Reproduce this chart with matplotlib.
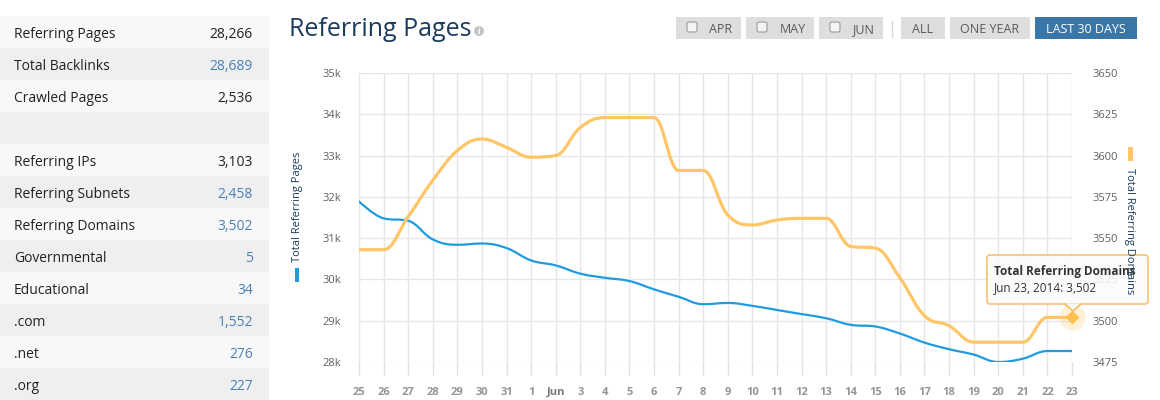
import numpy as np
import matplotlib
matplotlib.use('Agg')
import matplotlib.pyplot as plt
from matplotlib.path import Path
from matplotlib.patches import PathPatch, Rectangle, FancyBboxPatch, Polygon, Circle

plt.rcParams['font.family'] = ['Open Sans', 'DejaVu Sans']

# side table
table_labels = ['Referring Pages', 'Total Backlinks', 'Crawled Pages', '',
                'Referring IPs', 'Referring Subnets', 'Referring Domains',
                'Governmental', 'Educational', '.com', '.net', '.org']
table_values = ['28,266', '28,689', '2,536', '', '3,103', '2,458', '3,502',
                '5', '34', '1,552', '276', '227']
table_links = [False, True, False, False, False, True, True,
               True, True, True, True, True]

# chart data, May 25 .. Jun 23 2014
day_labels = ['25', '26', '27', '28', '29', '30', '31', '1', 'Jun', '3', '4',
              '5', '6', '7', '8', '9', '10', '11', '12', '13', '14', '15',
              '16', '17', '18', '19', '20', '21', '22', '23']
ref_pages = [31890, 31480, 31420, 30970, 30840, 30870, 30760, 30460, 30340,
             30140, 30040, 29960, 29760, 29580, 29400, 29430, 29360, 29260,
             29160, 29060, 28900, 28860, 28690, 28470, 28310, 28180, 28000,
             28080, 28266, 28266]
ref_domains = [3543, 3543, 3563, 3585, 3603, 3610, 3605, 3599, 3600, 3617,
               3623, 3623, 3623, 3591, 3591, 3564, 3558, 3561, 3562, 3562,
               3545, 3544, 3526, 3503, 3497, 3487, 3487, 3487, 3502, 3502]
left_ticks = [28000, 29000, 30000, 31000, 32000, 33000, 34000, 35000]
right_ticks = [3475, 3500, 3525, 3550, 3575, 3600, 3625, 3650]

buttons = ['APR', 'MAY', 'JUN', 'ALL', 'ONE YEAR', 'LAST 30 DAYS']

BLUE = '#1f9be0'
ORANGE = '#ffc566'
NAVY = '#1b3b5e'


def spline_path(xs, ys, smoothing=1.5):
    # highcharts-like spline through the points
    n = len(xs)
    lc = [None] * n
    rc = [None] * n
    d = smoothing + 1
    for i in range(1, n - 1):
        x, y = xs[i], ys[i]
        lx, ly = xs[i - 1], ys[i - 1]
        nx, ny = xs[i + 1], ys[i + 1]
        lcx = (smoothing * x + lx) / d
        lcy = (smoothing * y + ly) / d
        rcx = (smoothing * x + nx) / d
        rcy = (smoothing * y + ny) / d
        corr = ((rcy - lcy) * (rcx - x)) / (rcx - lcx) + y - rcy
        lcy += corr
        rcy += corr
        if lcy > ly and lcy > y:
            lcy = max(ly, y); rcy = 2 * y - lcy
        elif lcy < ly and lcy < y:
            lcy = min(ly, y); rcy = 2 * y - lcy
        if rcy > ny and rcy > y:
            rcy = max(ny, y); lcy = 2 * y - rcy
        elif rcy < ny and rcy < y:
            rcy = min(ny, y); lcy = 2 * y - rcy
        lc[i] = (lcx, lcy)
        rc[i] = (rcx, rcy)
    verts = [(xs[0], ys[0])]
    codes = [Path.MOVETO]
    for i in range(1, n):
        c1 = rc[i - 1] if rc[i - 1] else (xs[i - 1], ys[i - 1])
        c2 = lc[i] if lc[i] else (xs[i], ys[i])
        verts += [c1, c2, (xs[i], ys[i])]
        codes += [Path.CURVE4] * 3
    return Path(verts, codes)


fig = plt.figure(figsize=(11.6, 4), dpi=100)

# chart
W, H = 1160., 400.
ax = fig.add_axes([359 / W, 1 - 362 / H, (1072 - 359) / W, (362 - 73) / H])
ax.set_zorder(1)
ax2 = ax.twinx()
xs = np.arange(len(day_labels))
ax.set_xlim(0, len(day_labels) - 1)
ax.set_ylim(left_ticks[0], left_ticks[-1])
ax2.set_ylim(right_ticks[0], right_ticks[-1])
for a in (ax, ax2):
    for s in a.spines.values():
        s.set_visible(False)
ax.set_xticks(xs)
ax.set_xticklabels(day_labels)
ax.set_yticks(left_ticks)
ax.set_yticklabels(['%dk' % (t // 1000) for t in left_ticks])
ax2.set_yticks(right_ticks)
ax2.set_yticklabels([str(t) for t in right_ticks])
ax.grid(True, color='#e6e6e6', lw=1)
ax.set_axisbelow(True)
ax.tick_params(axis='x', length=9, width=1, color='#e0e0e0', pad=9,
               labelsize=8, labelcolor='#959595')
ax.tick_params(axis='y', length=0, pad=13, labelsize=8, labelcolor='#606060')
ax2.tick_params(axis='y', length=0, pad=15, labelsize=8, labelcolor='#606060')
for lab in ax.get_xticklabels():
    lab.set_fontweight('bold')
    if lab.get_text() == 'Jun':
        lab.set_color('#7a7a7a')

ax.add_patch(PathPatch(spline_path(xs, ref_pages), fill=False, ec=BLUE,
                       lw=1.6, capstyle='round', joinstyle='round'))
ax2.add_patch(PathPatch(spline_path(xs, ref_domains), fill=False, ec=ORANGE,
                        lw=2.3, capstyle='round', joinstyle='round'))
# hovered point
ax2.plot([xs[-1]], [ref_domains[-1]], 'o', ms=19, color=ORANGE, alpha=0.25,
         mec='none', clip_on=False)
ax2.plot([xs[-1]], [ref_domains[-1]], 'D', ms=7, color='#ffc04f',
         mec='none', clip_on=False)

# page overlay in pixel coords
ov = fig.add_axes([0, 0, 1, 1])
ov.set_zorder(5)
ov.set_xlim(0, W)
ov.set_ylim(H, 0)
ov.axis('off')
ov.patch.set_visible(False)

for i, (lab, val, link) in enumerate(zip(table_labels, table_values, table_links)):
    y0 = 16 + 32 * i
    ov.add_patch(Rectangle((0, y0), 269, 32,
                           color='#f8f8f8' if i % 2 == 0 else '#efefef', lw=0))
    ov.text(14, y0 + 18.5, lab, fontsize=10, color='#222222', va='center')
    ov.text(253, y0 + 18.5, val, fontsize=10, ha='right', va='center',
            color='#4a80b8' if link else '#222222')

ov.text(289, 30, 'Referring Pages', fontsize=18, color=NAVY, va='center')
ov.add_patch(Circle((479, 31), 5, color='#c4c4c4', lw=0))
ov.text(479, 31.5, 'i', fontsize=6, color='white', ha='center', va='center',
        fontweight='bold')

# period buttons
btn_x = [(676, 741), (746, 814), (819, 883), (901, 945), (950, 1030), (1035, 1137)]
for k, (name, (x0, x1)) in enumerate(zip(buttons, btn_x)):
    active = name == 'LAST 30 DAYS'
    ov.add_patch(Rectangle((x0, 17), x1 - x0, 22, lw=0,
                           color='#3a76a8' if active else '#dedede'))
    tx = (x0 + x1) / 2
    if k < 3:
        ov.add_patch(FancyBboxPatch((x0 + 11, 22), 10, 10,
                                    boxstyle='round,pad=0,rounding_size=2',
                                    fc='#f4f4f4', ec='#9a9a9a', lw=0.8))
        tx = (x0 + 25 + x1) / 2
    ov.text(tx, 29.5, name, fontsize=9, ha='center', va='center',
            color='white' if active else '#5a5a5a')
ov.plot([892, 892], [21, 37], color='#d8d8d8', lw=1)

# tooltip
ov.add_patch(FancyBboxPatch((987, 255), 161, 49,
                            boxstyle='round,pad=0,rounding_size=3',
                            fc='#fbfbfb', ec='#f5bd5e', lw=1.2, alpha=0.88))
ov.add_patch(Polygon([(1065, 303.4), (1081, 303.4), (1073, 311)], closed=True,
                     fc='#fbfbfb', ec='none', alpha=0.88))
ov.plot([1065, 1073, 1081], [304, 311, 304], color='#f5bd5e', lw=1.2)
ov.text(994, 272, 'Total Referring Domains', fontsize=8.5, fontweight='bold',
        color='#333333', va='center')
ov.text(994, 288, 'Jun 23, 2014: 3,502', fontsize=8.5, color='#333333',
        va='center')

# axis titles with legend swatches (drawn above the tooltip, as in the page)
ov.text(297.5, 207, 'Total Referring Pages', rotation=90, fontsize=8,
        color=NAVY, ha='center', va='center')
ov.add_patch(Rectangle((294.5, 268), 4, 14, color=BLUE, lw=0))
ov.text(1130, 231, 'Total Referring Domains', rotation=270, fontsize=8,
        color=NAVY, ha='center', va='center')
ov.add_patch(Rectangle((1128, 147), 4.5, 14, color=ORANGE, lw=0))

fig.savefig('out.png', dpi=100)
